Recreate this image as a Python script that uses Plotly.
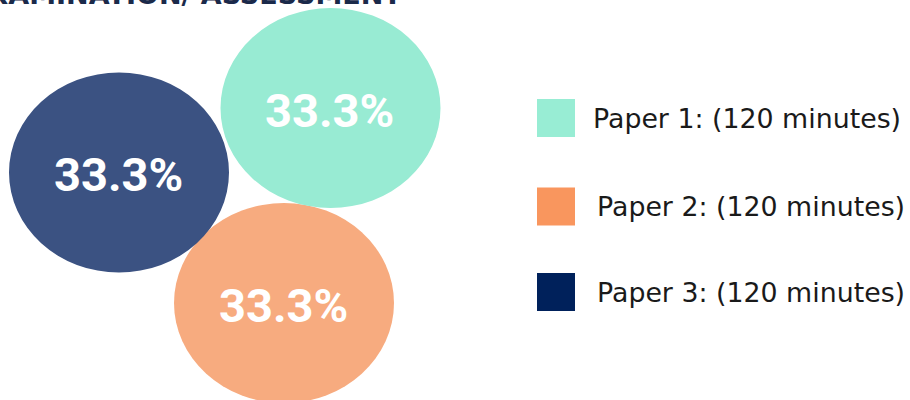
import math
import plotly.graph_objects as go

# Exam structure: three papers, equal weighting
papers = ["Paper 1", "Paper 2", "Paper 3"]
durations = [120, 120, 120]          # minutes
shares = [33.3, 33.3, 33.3]          # percent of final grade
title_text = "EXAMINATION/ ASSESSMENT"

# Styling
bubble_colors = ["#98EBD3", "#F7AB7F", "#3B5282"]
legend_colors = ["#98EDD4", "#F9965E", "#00215B"]

# Bubble layout (pixel-like canvas coordinates), base radii scaled by share
centers = {"Paper 1": (330.5, 108), "Paper 2": (284, 303), "Paper 3": (119, 172.5)}
base_rx, base_ry = 110, 100
draw_order = ["Paper 2", "Paper 1", "Paper 3"]

W, H = 910, 400
fig = go.Figure()
# invisible trace so the axes exist
fig.add_trace(go.Scatter(x=[0, W], y=[0, H], mode="markers",
                         marker=dict(opacity=0), hoverinfo="skip", showlegend=False))

shapes = []
annotations = []
max_share = max(shares)
for name in draw_order:
    i = papers.index(name)
    cx, cy = centers[name]
    k = math.sqrt(shares[i] / max_share)
    rx, ry = base_rx * k, base_ry * k
    shapes.append(dict(type="circle", xref="x", yref="y",
                       x0=cx - rx, x1=cx + rx, y0=cy - ry, y1=cy + ry,
                       fillcolor=bubble_colors[i], line=dict(width=0), layer="above"))
    annotations.append(dict(x=cx - 1, y=cy + 2, xref="x", yref="y",
                            text=f"<b>{shares[i]:.1f}%</b>", showarrow=False,
                            font=dict(family="Roboto", size=47, color="white"),
                            xanchor="center", yanchor="middle"))

# Legend: colored squares with labels
legend_y = [118, 206.5, 292]
legend_text_x = [591, 595, 595]
for i, name in enumerate(papers):
    y = legend_y[i]
    shapes.append(dict(type="rect", xref="x", yref="y",
                       x0=537, x1=575, y0=y - 19, y1=y + 19,
                       fillcolor=legend_colors[i], line=dict(width=0)))
    annotations.append(dict(x=legend_text_x[i], y=y, xref="x", yref="y",
                            text=f"{name}: ({durations[i]} minutes)", showarrow=False,
                            font=dict(family="DejaVu Sans", size=26.8, color="#1A1A1A"),
                            xanchor="left", yanchor="middle"))

# Title (sits mostly above the visible area)
annotations.append(dict(x=404, y=12, xref="x", yref="y", text=f"<b>{title_text}</b>",
                        showarrow=False, xanchor="right", yanchor="bottom",
                        font=dict(family="DejaVu Sans", size=27, color="#1B2A4A")))

fig.update_layout(
    width=W, height=H,
    margin=dict(l=0, r=0, t=0, b=0),
    paper_bgcolor="white", plot_bgcolor="white",
    xaxis=dict(range=[0, W], visible=False, fixedrange=True),
    yaxis=dict(range=[H, 0], visible=False, fixedrange=True),
    shapes=shapes, annotations=annotations,
    showlegend=False,
)

fig.write_html("out.html", config={"displayModeBar": False})
